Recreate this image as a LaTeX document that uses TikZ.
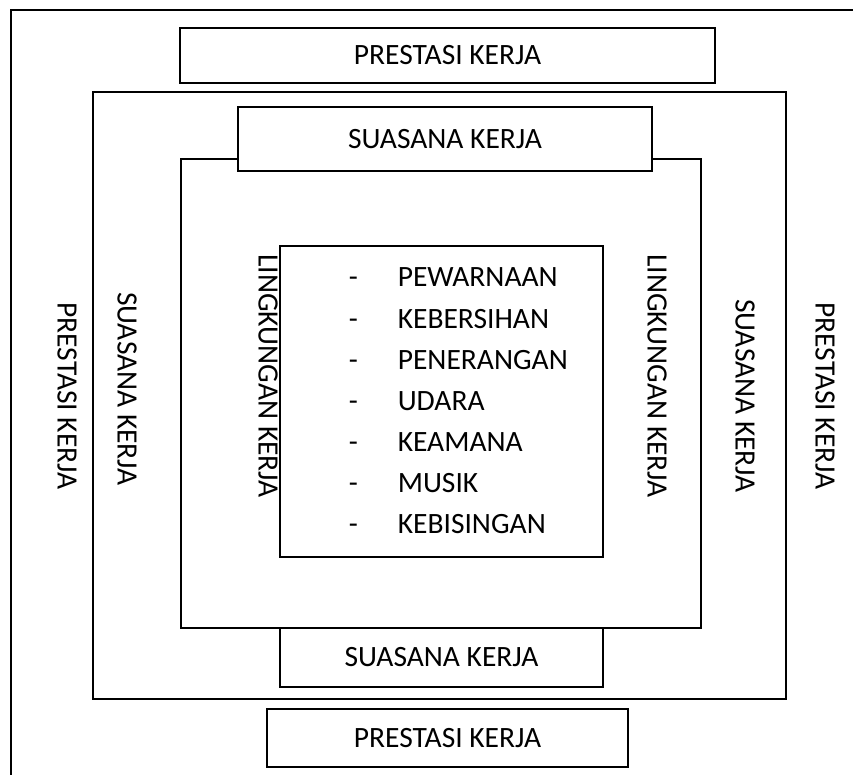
\documentclass[tikz,border=0pt]{standalone}
\usepackage{fontspec}
\setmainfont{Carlito}
\usepackage{tikz}
\usetikzlibrary{positioning}

\tikzset{
    kotak/.style={draw, fill=white, line width=1.6pt, inner sep=0pt},
    label/.style={font=\fontsize{29.5}{35}\selectfont},
    tegak/.style={label, rotate=-90},
    butir/.style={label, anchor=base west, inner sep=0pt}
}

\begin{document}
\begin{tikzpicture}[x=1pt, y=-1pt, line width=1.6pt]
    \useasboundingbox (0,0) rectangle (853,775);
    % Frames
    \draw (853,10) -- (11,10) -- (11,775);
    \draw (93,92) rectangle (786,699);
    \draw (181,159) rectangle (701,628);
    \node[kotak, minimum width=323pt, minimum height=311pt] (isi) at (441.5,401.5) {};
    % Nodes
    \node[kotak, label, minimum width=535pt, minimum height=55pt] (prestasiAtas) at (447.5,55.5) {PRESTASI KERJA};
    \node[kotak, label, minimum width=414pt, minimum height=64pt] (suasanaAtas) at (445,139) {SUASANA KERJA};
    \node[kotak, label, minimum width=323pt, minimum height=59pt] (suasanaBawah) at (441.5,657.5) {SUASANA KERJA};
    \node[kotak, label, minimum width=361pt, minimum height=58pt] (prestasiBawah) at (447.5,738) {PRESTASI KERJA};
    \node[tegak] (prestasiKiri) at (67,396) {PRESTASI KERJA};
    \node[tegak] (suasanaKiri) at (127,389) {SUASANA KERJA};
    \node[tegak] (lingkunganKiri) at (268,376) {LINGKUNGAN KERJA};
    \node[tegak] (lingkunganKanan) at (657,376) {LINGKUNGAN KERJA};
    \node[tegak] (suasanaKanan) at (745,396) {SUASANA KERJA};
    \node[tegak] (prestasiKanan) at (825,396) {PRESTASI KERJA};
    % Isi lingkungan kerja
    \foreach \teks [count=\i from 0] in {PEWARNAAN, KEBERSIHAN, PENERANGAN, UDARA, KEAMANA, MUSIK, KEBISINGAN} {
        \node[butir] (strip\i) at (348,287+41*\i) {-};
        \node[butir] (butir\i) at (397,287+41*\i) {\teks};
    }
\end{tikzpicture}
\end{document}
